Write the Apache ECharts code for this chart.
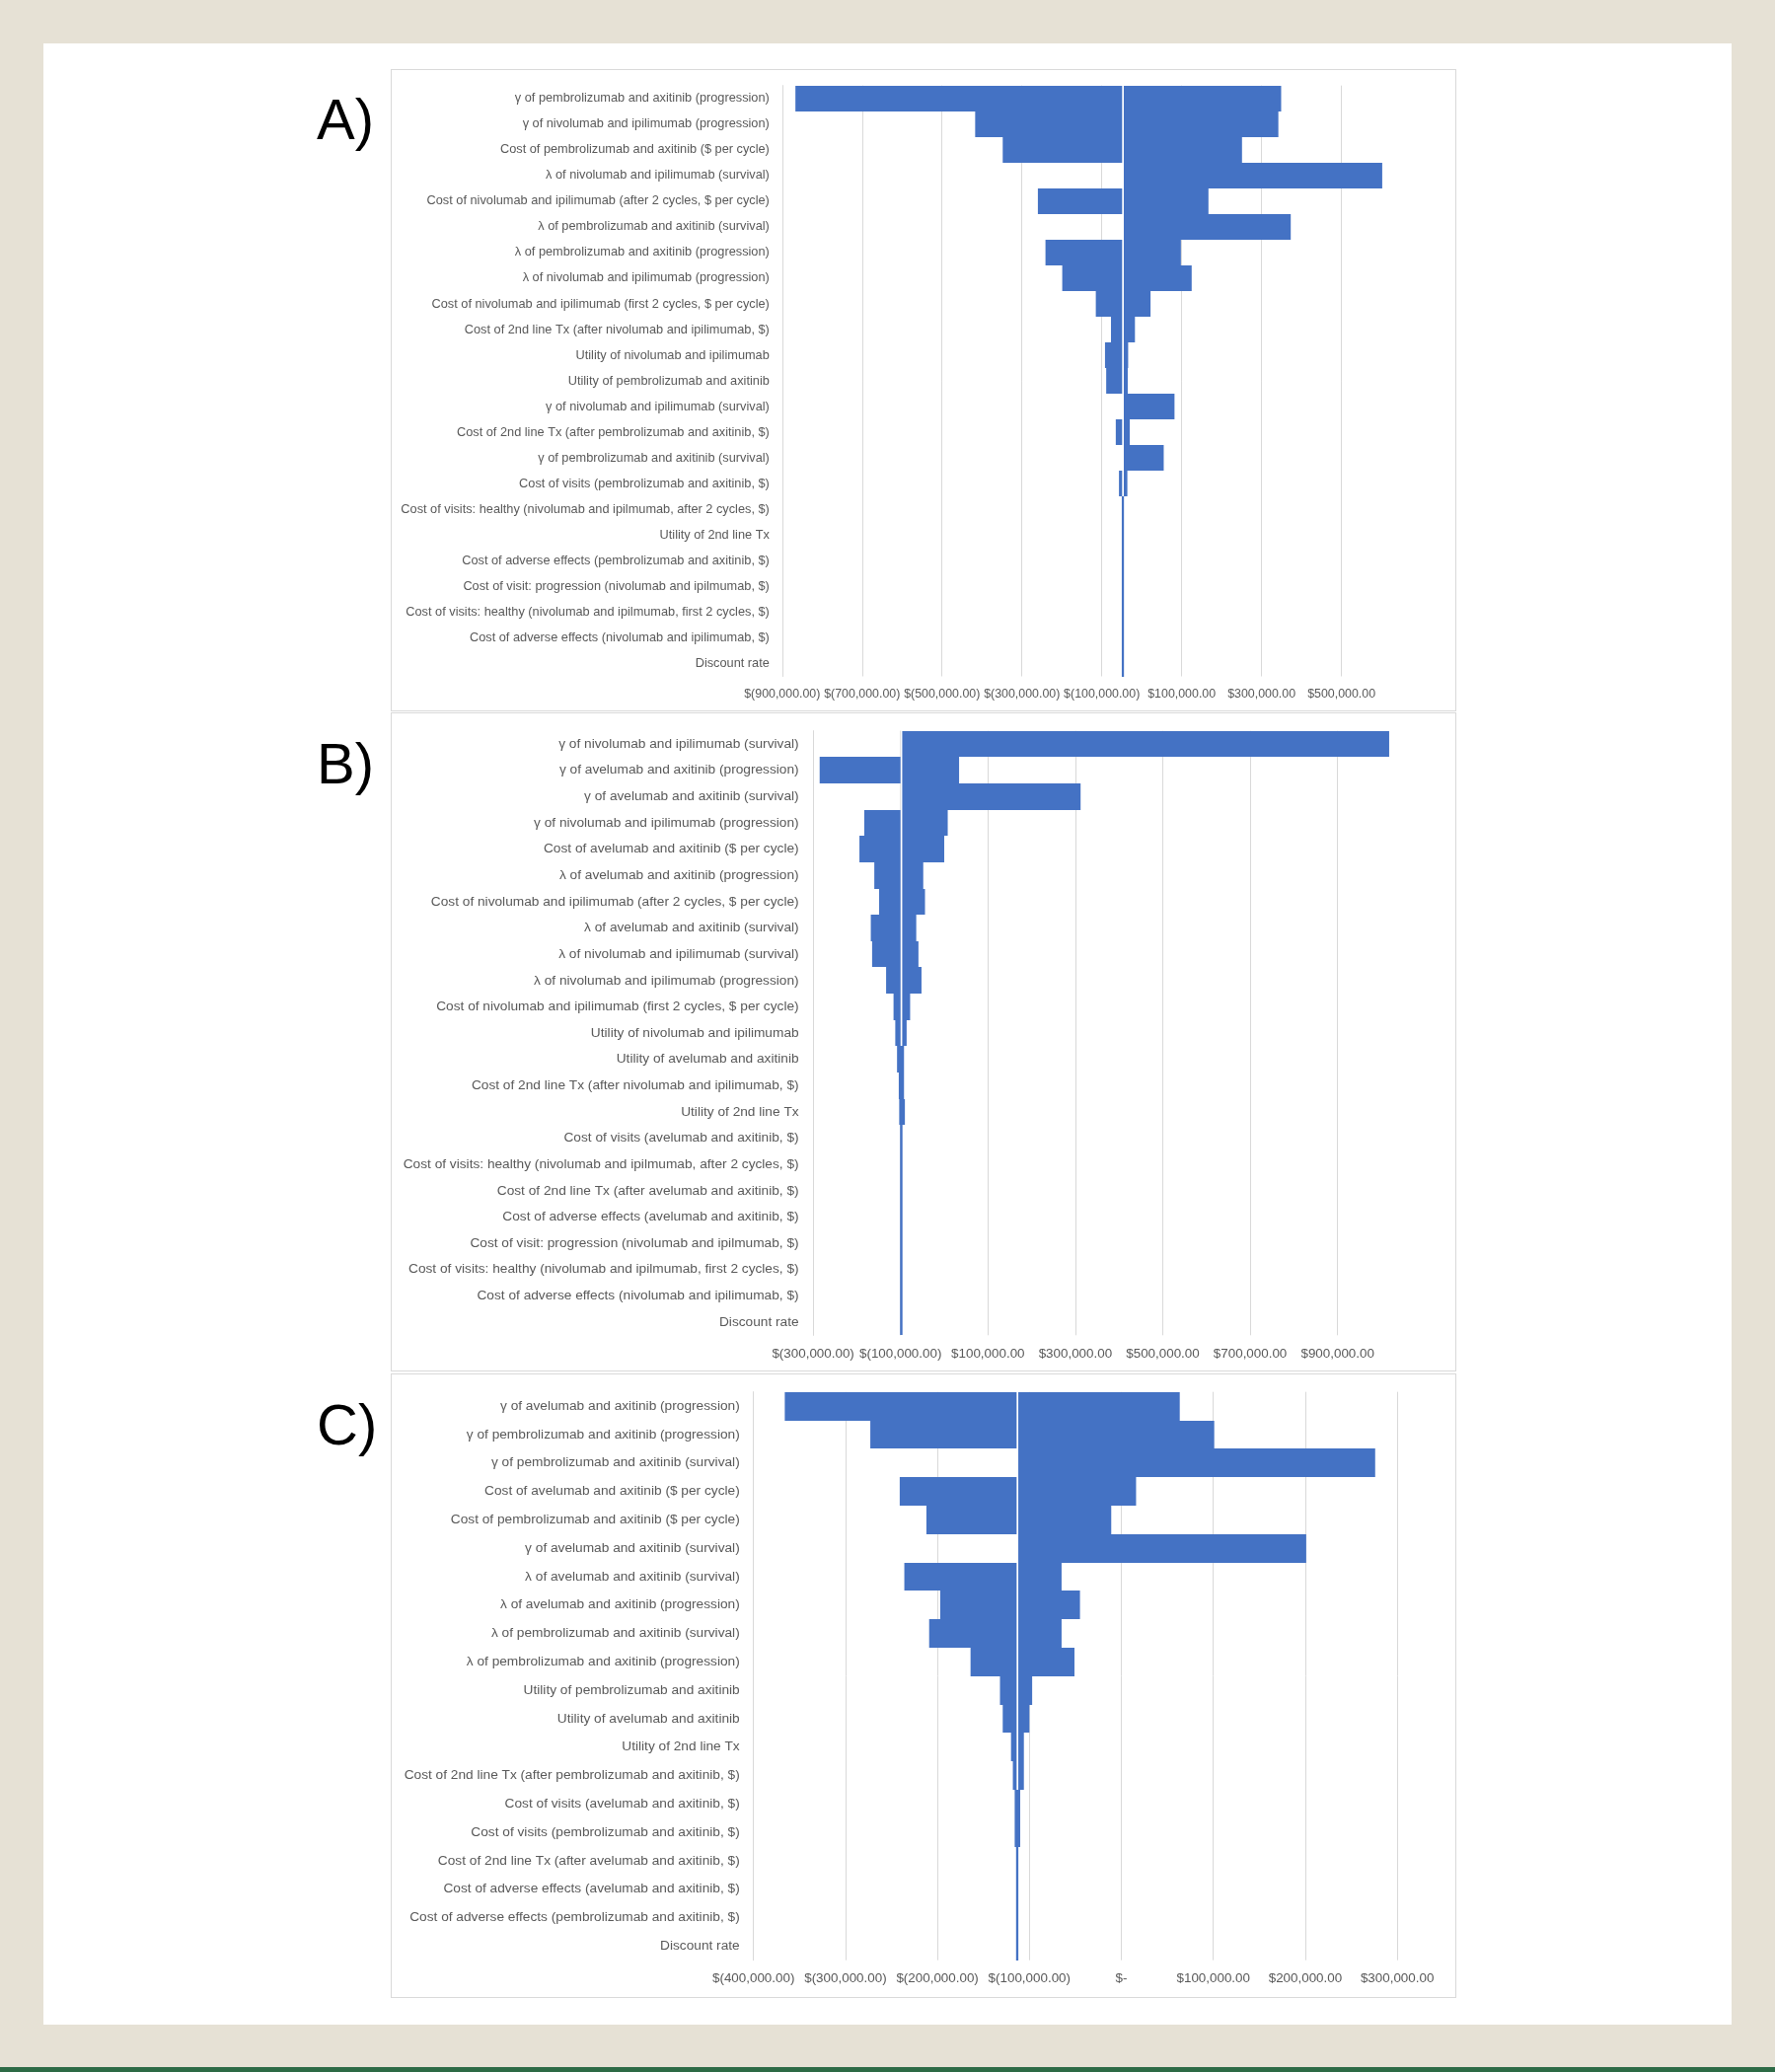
<!DOCTYPE html>
<html>
<head>
<meta charset="utf-8">
<script src="https://cdn.jsdelivr.net/npm/echarts/dist/echarts.min.js"></script>
<style>
  html, body { margin: 0; padding: 0; background: #e6e1d5; }
  #page { position: relative; width: 1799px; height: 2100px; background: #e6e1d5; overflow: hidden; }
  #white { position: absolute; left: 44px; top: 44px; width: 1711px; height: 2008px; background: #ffffff; }
  #green { position: absolute; left: 0; top: 2095px; width: 1799px; height: 5px; background: #2d6a45; }
  .frame { position: absolute; border: 1.5px solid #d9d9d9; box-sizing: border-box; }
  #chart { position: absolute; left: 0; top: 0; width: 1799px; height: 2100px; }
</style>
</head>
<body>
<div id="page">
  <div id="white"></div>
  <div id="green"></div>
  <div class="frame" style="left:396px; top:70px; width:1080px; height:651px;"></div>
  <div class="frame" style="left:396px; top:722px; width:1080px; height:668px;"></div>
  <div class="frame" style="left:396px; top:1392px; width:1080px; height:633px;"></div>
  <div id="chart"></div>
</div>
<script>
// ---------- Panel A ----------
const catsA = [
  "γ of pembrolizumab and axitinib (progression)",
  "γ of nivolumab and ipilimumab (progression)",
  "Cost of pembrolizumab and axitinib ($ per cycle)",
  "λ of nivolumab and ipilimumab (survival)",
  "Cost of nivolumab and ipilimumab (after 2 cycles, $ per cycle)",
  "λ of pembrolizumab and axitinib (survival)",
  "λ of pembrolizumab and axitinib (progression)",
  "λ of nivolumab and ipilimumab (progression)",
  "Cost of nivolumab and ipilimumab (first 2 cycles, $ per cycle)",
  "Cost of 2nd line Tx (after nivolumab and ipilimumab, $)",
  "Utility of nivolumab and ipilimumab",
  "Utility of pembrolizumab and axitinib",
  "γ of nivolumab and ipilimumab (survival)",
  "Cost of 2nd line Tx (after pembrolizumab and axitinib, $)",
  "γ of pembrolizumab and axitinib (survival)",
  "Cost of visits (pembrolizumab and axitinib, $)",
  "Cost of visits: healthy (nivolumab and ipilmumab, after 2 cycles, $)",
  "Utility of 2nd line Tx",
  "Cost of adverse effects (pembrolizumab and axitinib, $)",
  "Cost of visit: progression (nivolumab and ipilmumab, $)",
  "Cost of visits: healthy (nivolumab and ipilmumab, first 2 cycles, $)",
  "Cost of adverse effects (nivolumab and ipilimumab, $)",
  "Discount rate"
];
const lowA  = [-867000, -417000, -348000, -47000, -260000, -47000, -241000, -199000, -115000, -77000, -92000, -89000, -47000, -65000, -47000, -57000, -50000, -50000, -50000, -50000, -50000, -50000, -50000];
const highA = [ 349000,  342000,  251000, 602000,  167000, 373000,   98000,  125000,   22000, -17000, -34000, -35000,  82000, -30000,  55000, -36000, -44500, -44500, -44500, -44500, -44500, -44500, -44500];
const baseA = -47000;
const ticksA = { min: -900000, max: 620000, interval: 200000 };

// ---------- Panel B ----------
const catsB = [
  "γ of nivolumab and ipilimumab (survival)",
  "γ of avelumab and axitinib (progression)",
  "γ of avelumab and axitinib (survival)",
  "γ of nivolumab and ipilimumab (progression)",
  "Cost of avelumab and axitinib ($ per cycle)",
  "λ of avelumab and axitinib (progression)",
  "Cost of nivolumab and ipilimumab (after 2 cycles, $ per cycle)",
  "λ of avelumab and axitinib (survival)",
  "λ of nivolumab and ipilimumab (survival)",
  "λ of nivolumab and ipilimumab (progression)",
  "Cost of nivolumab and ipilimumab (first 2 cycles, $ per cycle)",
  "Utility of nivolumab and ipilimumab",
  "Utility of avelumab and axitinib",
  "Cost of 2nd line Tx (after nivolumab and ipilimumab, $)",
  "Utility of 2nd line Tx",
  "Cost of visits (avelumab and axitinib, $)",
  "Cost of visits: healthy (nivolumab and ipilmumab, after 2 cycles, $)",
  "Cost of 2nd line Tx (after avelumab and axitinib, $)",
  "Cost of adverse effects (avelumab and axitinib, $)",
  "Cost of visit: progression (nivolumab and ipilmumab, $)",
  "Cost of visits: healthy (nivolumab and ipilmumab, first 2 cycles, $)",
  "Cost of adverse effects (nivolumab and ipilimumab, $)",
  "Discount rate"
];
const lowB  = [-98000, -285000, -98000, -183000, -194000, -160000, -149000, -168000, -165000, -133000, -116000, -112000, -108000, -104000, -103000, -101000, -101000, -101000, -101000, -101000, -101000, -101000, -101000];
const highB = [1018000,  34000, 312000,    8000,       0,  -48000,  -44000,  -64000,  -59000,  -52000,  -78000,  -86000,  -92000,  -92000,  -90000,  -95500,  -95500,  -95500,  -95500,  -95500,  -95500,  -95500,  -95500];
const baseB = -98000;
const ticksB = { min: -300000, max: 1040000, interval: 200000 };

// ---------- Panel C ----------
const catsC = [
  "γ of avelumab and axitinib (progression)",
  "γ of pembrolizumab and axitinib (progression)",
  "γ of pembrolizumab and axitinib (survival)",
  "Cost of avelumab and axitinib ($ per cycle)",
  "Cost of pembrolizumab and axitinib ($ per cycle)",
  "γ of avelumab and axitinib (survival)",
  "λ of avelumab and axitinib (survival)",
  "λ of avelumab and axitinib (progression)",
  "λ of pembrolizumab and axitinib (survival)",
  "λ of pembrolizumab and axitinib (progression)",
  "Utility of pembrolizumab and axitinib",
  "Utility of avelumab and axitinib",
  "Utility of 2nd line Tx",
  "Cost of 2nd line Tx (after pembrolizumab and axitinib, $)",
  "Cost of visits (avelumab and axitinib, $)",
  "Cost of visits (pembrolizumab and axitinib, $)",
  "Cost of 2nd line Tx (after avelumab and axitinib, $)",
  "Cost of adverse effects (avelumab and axitinib, $)",
  "Cost of adverse effects (pembrolizumab and axitinib, $)",
  "Discount rate"
];
const lowC  = [-366000, -273000, -113000, -241000, -212000, -113000, -236000, -197000, -209000, -164000, -132000, -129000, -120000, -118000, -116000, -116000, -114500, -114500, -114500, -114500];
const highC = [  63500,  101000,  276000,   16000,  -11000,  201000,  -65000,  -45000,  -65000,  -51000,  -97000, -100000, -106000, -106000, -110000, -110000, -112000, -112000, -112000, -112000];
const baseC = -113000;
const ticksC = { min: -400000, max: 330000, interval: 100000 };

// ---------- helpers ----------
function money(v) {
  if (Math.abs(v) < 1e-6) return '$-';
  const s = Math.abs(v).toFixed(2).replace(/\B(?=(\d{3})+(?!\d))/g, ',');
  return v < 0 ? '$(' + s + ')' : '$' + s;
}
function makeRender(base) {
  return function (params, api) {
    const ci = api.value(0);
    const p1 = api.coord([api.value(1), ci]);
    const p2 = api.coord([api.value(2), ci]);
    const pb = api.coord([base, ci]);
    const h = api.size([0, 1])[1];
    const y0 = Math.round(p1[1] - h / 2);
    const y1 = Math.round(p1[1] + h / 2);
    const children = [{
      type: 'rect',
      shape: { x: p1[0], y: y0, width: Math.max(p2[0] - p1[0], 1), height: y1 - y0 },
      style: { fill: '#4472c4' }
    }];
    if (p2[0] - p1[0] > 8) {
      children.push({
        type: 'line',
        shape: { x1: pb[0], y1: y0, x2: pb[0], y2: y1 },
        style: { stroke: '#ffffff', lineWidth: 1.7 }
      });
    }
    return { type: 'group', children: children };
  };
}

const panels = [
  { cats: catsA, low: lowA, high: highA, base: baseA, t: ticksA, grid: { left: 792.8, top: 86.7, width: 615.4, height: 598.8 }, catFont: 12.75, tickFont: 12.4, catMargin: 13, tickMargin: 12 },
  { cats: catsB, low: lowB, high: highB, base: baseB, t: ticksB, grid: { left: 824.1, top: 740.7, width: 593.6, height: 612.6 }, catFont: 13.7, tickFont: 13.4, catMargin: 14.5, tickMargin: 13 },
  { cats: catsC, low: lowC, high: highC, base: baseC, t: ticksC, grid: { left: 763.7, top: 1410.7, width: 680.4, height: 576 }, catFont: 13.7, tickFont: 13.4, catMargin: 14, tickMargin: 12.5 }
];

const option = {
  backgroundColor: 'transparent',
  animation: false,
  grid: panels.map(p => Object.assign({ containLabel: false, outerBoundsMode: 'none' }, p.grid)),
  xAxis: panels.map((p, i) => ({
    type: 'value',
    gridIndex: i,
    min: p.t.min,
    max: p.t.max,
    interval: p.t.interval,
    axisLine: { show: false },
    axisTick: { show: false },
    splitLine: { show: true, showMaxLine: false, lineStyle: { color: '#d9d9d9', width: 1 } },
    axisLabel: {
      show: true,
      showMaxLabel: false,
      margin: p.tickMargin,
      color: '#595959',
      fontFamily: 'Liberation Sans, Arial, sans-serif',
      fontSize: p.tickFont,
      formatter: function (v) {
        const k = (v - p.t.min) / p.t.interval;
        if (Math.abs(k - Math.round(k)) > 1e-6) return '';
        return money(v);
      }
    }
  })),
  yAxis: panels.map((p, i) => ({
    type: 'category',
    gridIndex: i,
    inverse: true,
    data: p.cats,
    axisLine: { show: true, onZero: false, lineStyle: { color: '#d9d9d9', width: 1 } },
    axisTick: { show: false },
    splitLine: { show: false },
    axisLabel: {
      margin: p.catMargin,
      color: '#595959',
      fontFamily: 'Liberation Sans, Arial, sans-serif',
      fontSize: p.catFont,
      interval: 0
    }
  })),
  series: panels.map((p, i) => ({
    type: 'custom',
    xAxisIndex: i,
    yAxisIndex: i,
    renderItem: makeRender(p.base),
    encode: { x: [1, 2], y: 0 },
    data: p.cats.map((c, j) => [j, p.low[j], p.high[j]]),
    z: 2
  })),
  graphic: [
    { type: 'text', left: 321, top: 124.7 - 29, style: { text: 'A)', font: '58px "Liberation Sans", Arial, sans-serif', fill: '#000000' } },
    { type: 'text', left: 321, top: 778.4 - 29, style: { text: 'B)', font: '58px "Liberation Sans", Arial, sans-serif', fill: '#000000' } },
    { type: 'text', left: 321, top: 1448.1 - 29, style: { text: 'C)', font: '58px "Liberation Sans", Arial, sans-serif', fill: '#000000' } }
  ]
};

const chart = echarts.init(document.getElementById('chart'), null, { renderer: 'canvas', width: 1799, height: 2100 });
chart.setOption(option);
</script>
</body>
</html>
